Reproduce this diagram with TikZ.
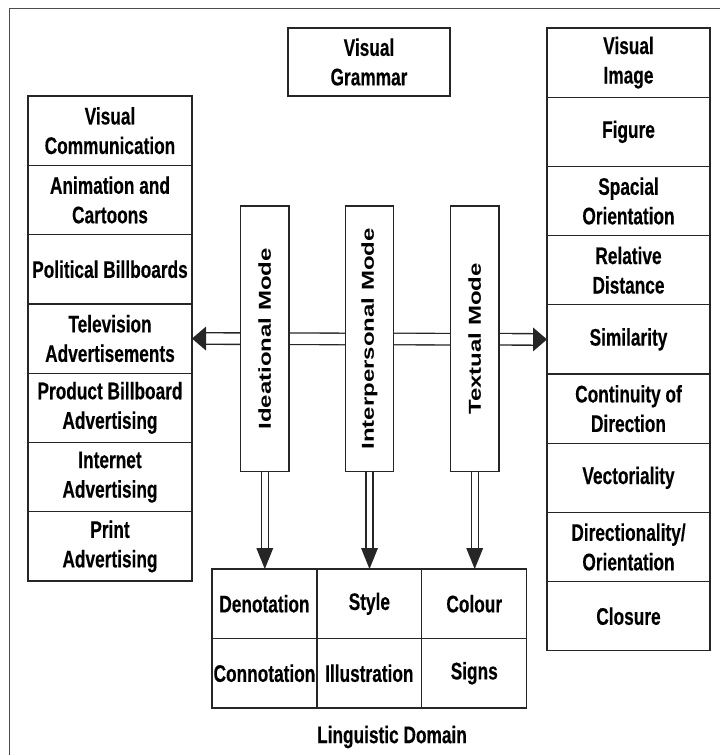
\documentclass[tikz,border=0pt]{standalone}
\usepackage{fontspec}
\usetikzlibrary{calc}
\newfontfamily\nfont{Liberation Sans}[FakeStretch=0.72, FakeBold=0.3]
\newfontfamily\vfont{Liberation Sans}
\tikzset{
  box/.style={draw=black!85, line width=1.3pt, fill=white, inner sep=0pt, outer sep=0pt, align=center,
    font=\nfont\bfseries\fontsize{24}{29.5}\selectfont, text=black},
  colbox/.style={box, minimum width=164pt, minimum height=69.3pt},
  rbox/.style={box, minimum width=163pt, minimum height=69.2pt},
  cell/.style={box, minimum width=104.9pt, minimum height=69.5pt},
  modebox/.style={box, minimum width=48.3pt, minimum height=265.7pt},
  hdbl/.style={draw=black!85, line width=1.3pt, double=white, double distance=10.2pt},
  vdbl/.style={draw=black!85, line width=1.3pt, double=white, double distance=5.7pt},
  head/.style={fill=black!85},
  plain/.style={font=\nfont\bfseries\fontsize{24}{29.5}\selectfont, text=black, inner sep=0pt}
}
\newcommand{\vtext}[1]{\scalebox{1}[0.72]{\vfont\bfseries\fontsize{24}{28}\selectfont #1}}
\begin{document}
\begin{tikzpicture}[x=1pt,y=-1pt]
\useasboundingbox (0,0) rectangle (720,755);
\draw[line width=1pt, black!70] (9,755) -- (9,8) -- (720,8);

% top
\node[box, minimum width=162pt, minimum height=68pt] (vg) at (369,62) {Visual\\Grammar};

% left column
\node[colbox] (l1) at (110,130.65) {Visual\\Communication};
\node[colbox, anchor=north] (l2) at (l1.south) {Animation and\\Cartoons};
\node[colbox, anchor=north] (l3) at (l2.south) {Political Billboards};
\node[colbox, anchor=north] (l4) at (l3.south) {Television\\Advertisements};
\node[colbox, anchor=north] (l5) at (l4.south) {Product Billboard\\Advertising};
\node[colbox, anchor=north] (l6) at (l5.south) {Internet\\Advertising};
\node[colbox, anchor=north] (l7) at (l6.south) {Print\\Advertising};

% right column
\node[rbox] (r1) at (628.5,62.6) {Visual\\Image};
\node[rbox, anchor=north] (r2) at (r1.south) {Figure};
\node[rbox, anchor=north] (r3) at (r2.south) {Spacial\\Orientation};
\node[rbox, anchor=north] (r4) at (r3.south) {Relative\\Distance};
\node[rbox, anchor=north] (r5) at (r4.south) {Similarity};
\node[rbox, anchor=north] (r6) at (r5.south) {Continuity of\\Direction};
\node[rbox, anchor=north] (r7) at (r6.south) {Vectoriality};
\node[rbox, anchor=north] (r8) at (r7.south) {Directionality/\\Orientation};
\node[rbox, anchor=north] (r9) at (r8.south) {Closure};

% horizontal double connector
\coordinate (lbase) at ($(l4.east)+(14,0)$);
\coordinate (rbase) at ($(r5.west)+(-14,0)$);
\draw[hdbl] (lbase) -- (rbase);
\fill[head] (l4.east) -- ++(14,-12) -- ++(0,24) -- cycle;
\fill[head] (r5.west) -- ++(-14,-12) -- ++(0,24) -- cycle;

% mode boxes
\node[modebox] (ide) at (264.8,338.8) {\rotatebox{90}{\vtext{Ideational Mode}}};
\node[modebox] (int) at (369.5,338.8) {\rotatebox{90}{\vtext{Interpersonal Mode}}};
\node[modebox] (tex) at (474.7,338.8) {\rotatebox{90}{\vtext{Textual Mode}}};

% bottom grid
\node[cell] (c1) at (264.45,603.75) {Denotation};
\node[cell, anchor=west] (c2) at (c1.east) {Style};
\node[cell, anchor=west] (c3) at (c2.east) {Colour};
\node[cell, anchor=north] (c4) at (c1.south) {Connotation};
\node[cell, anchor=north] (c5) at (c2.south) {Illustration};
\node[cell, anchor=north] (c6) at (c3.south) {Signs};
\node[plain] (ld) at (392,737) {Linguistic Domain};

% vertical arrows
\coordinate (t1) at (ide.south |- c1.north);
\coordinate (t2) at (int.south |- c2.north);
\coordinate (t3) at (tex.south |- c3.north);
\draw[vdbl] (ide.south) -- ($(t1)+(0,-21)$);
\draw[vdbl] (int.south) -- ($(t2)+(0,-21)$);
\draw[vdbl] (tex.south) -- ($(t3)+(0,-21)$);
\fill[head] (t1) -- ++(-8.5,-21) -- ++(17,0) -- cycle;
\fill[head] (t2) -- ++(-8.5,-21) -- ++(17,0) -- cycle;
\fill[head] (t3) -- ++(-8.5,-21) -- ++(17,0) -- cycle;
\end{tikzpicture}
\end{document}
